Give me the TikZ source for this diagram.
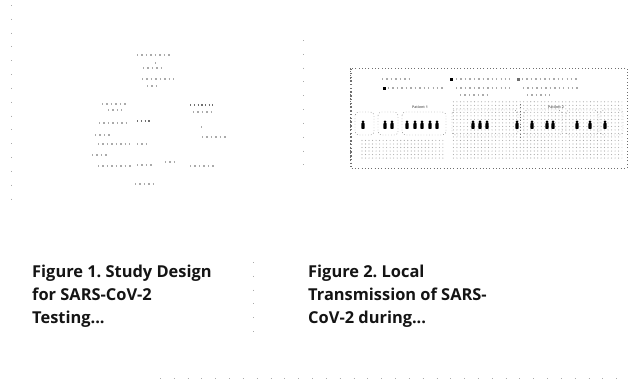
\documentclass[tikz,border=0pt]{standalone}
\usepackage{fontspec}
\setmainfont{Open Sans}
\usetikzlibrary{patterns}
\frenchspacing
\definecolor{ink}{RGB}{20,20,20}
\definecolor{faint}{RGB}{170,170,170}
\definecolor{speckgray}{RGB}{110,110,110}
\tikzset{
    caption/.style={font=\bfseries\fontsize{14}{19.6}\selectfont, text=ink, align=left, anchor=base west, inner sep=0pt},
    speck/.style={draw=faint, line width=0.9pt, dash pattern=on 1.2pt off 2.6pt},
    darkspeck/.style={draw=speckgray, line width=0.9pt, dash pattern=on 1.2pt off 2pt},
    scan/.style={draw=faint, line width=0.6pt, dash pattern=on 0.8pt off 11pt},
    framebox/.style={draw=speckgray, line width=0.5pt, dash pattern=on 0.6pt off 2.2pt},
    groupline/.style={draw=speckgray, line width=0.4pt, dash pattern=on 0.6pt off 1.8pt, rounded corners=3pt},
    texture/.style={pattern=dots, pattern color=faint},
    tag/.style={font=\bfseries\fontsize{3}{3}\selectfont, text=speckgray, inner sep=0pt},
    patientfig/.pic={
        \fill[black] (0,-3.2) circle (1.5);
        \fill[black, rounded corners=0.5pt] (-1.7,-1.9) rectangle (1.7,3.8);
    }
}

\begin{document}
\begin{tikzpicture}[x=0.03cm, y=-0.03cm]
\useasboundingbox (0,0) rectangle (629,383);
\fill[white] (0,0) rectangle (629,383);

% scan marks
\draw[scan] (11,5) -- (11,205);
\draw[scan] (303,40) -- (303,172);
\draw[scan] (253,262) -- (253,342);
\draw[scan] (160,378) -- (629,378);

% left thumbnail: study design
\draw[speck] (137,55) -- (172,55);
\draw[speck] (155,63) -- (158,63);
\draw[speck] (143,68) -- (163,68);
\draw[speck] (142,79) -- (174,79);
\draw[speck] (147,86) -- (160,86);
\draw[speck] (102,104) -- (127,104);
\draw[speck] (108,110) -- (122,110);
\draw[speck] (99,123) -- (127,123);
\draw[speck] (95,135) -- (110,135);
\draw[speck] (98,144) -- (130,144);
\draw[speck] (92,155) -- (108,155);
\draw[speck] (98,166) -- (131,166);
\draw[darkspeck] (137,121) -- (150,121);
\draw[speck] (137,144) -- (150,144);
\draw[speck] (137,165) -- (152,165);
\draw[darkspeck] (190,105) -- (213,105);
\draw[speck] (193,112) -- (211,112);
\draw[speck] (201,127) -- (204,127);
\draw[speck] (202,137) -- (226,137);
\draw[speck] (190,166) -- (215,166);
\draw[speck] (165,162) -- (176,162);
\draw[speck] (135,184) -- (155,184);

% right thumbnail: transmission chart
\draw[framebox] (350,68) rectangle (627,168);
\draw[darkspeck] (351,69) -- (351,167);
\fill[texture] (452,100) rectangle (622,160);
\fill[texture] (360,138) rectangle (445,160);

% legend
\draw[speck] (382,79) -- (410,79);
\fill[black] (450,77.5) rectangle ++(3,3);
\draw[speck] (456,79) -- (510,79);
\fill[speckgray] (517,77.5) rectangle ++(3,3);
\draw[speck] (522,79) -- (578,79);
\fill[black] (383,86.5) rectangle ++(3,3);
\draw[speck] (388,88) -- (443,88);
\draw[speck] (456,88) -- (510,88);
\draw[speck] (460,95) -- (488,95);
\draw[speck] (523,88) -- (578,88);
\draw[speck] (527,95) -- (550,95);

\node[tag] (patone) at (420,107) {Patient 1};
\node[tag] (pattwo) at (556,107) {Patient 2};

% patient groups
\draw[groupline] (355,112) rectangle (374,135);
\draw[groupline] (378,112) rectangle (398,135);
\draw[groupline] (402,112) rectangle (446,135);
\draw[groupline] (452,110) rectangle (518,135);
\draw[groupline] (524,110) rectangle (562,135);
\draw[groupline] (566,110) rectangle (598,135);
\draw[groupline] (600,110) rectangle (623,135);
\draw[framebox] (520,104) -- (520,140);

\foreach \px in {363,385,392,407,415,422,430,437,473,480,487,517,532,547,553,577,590,605}
    \pic at (\px,125) {patientfig};

% captions (anchored at last line)
\node[caption] (capone) at (32,323) {Figure 1. Study Design\\for SARS-CoV-2\\Testing...};
\node[caption] (captwo) at (308,323) {Figure 2. Local\\Transmission of SARS-\\CoV-2 during...};
\end{tikzpicture}
\end{document}
